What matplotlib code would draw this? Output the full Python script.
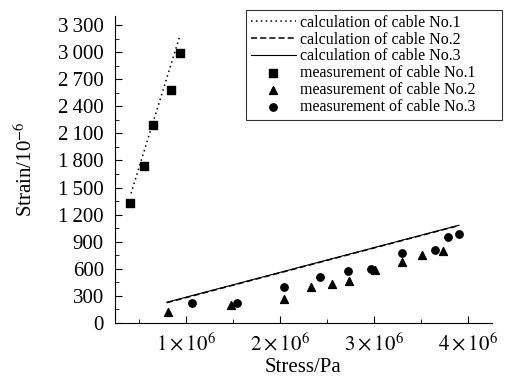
import numpy as np
import matplotlib
matplotlib.use('Agg')
from matplotlib import pyplot as plt
from matplotlib.ticker import MultipleLocator, FixedLocator

plt.rcParams['font.family'] = ['Liberation Serif', 'DejaVu Serif']
plt.rcParams['mathtext.fontset'] = 'stix'

# calculated lines (stress in Pa, strain in 1e-6)
calc1_x = [0.42e6, 0.94e6]
calc1_y = [1435, 3186]
calc2_x = [0.80e6, 3.886e6]
calc2_y = [225, 1076]
calc3_x = [0.80e6, 3.90e6]
calc3_y = [230, 1083]

# measurements
meas1_x = [0.41e6, 0.554e6, 0.65e6, 0.84e6, 0.94e6]
meas1_y = [1331, 1740, 2198, 2577, 2994]
meas2_x = [0.808e6, 1.479e6, 2.04e6, 2.33e6, 2.55e6, 2.73e6, 3.01e6, 3.29e6, 3.51e6, 3.73e6]
meas2_y = [125, 199, 262, 402, 431, 465, 586, 678, 752, 796]
meas3_x = [1.07e6, 1.545e6, 2.04e6, 2.42e6, 2.72e6, 2.97e6, 3.29e6, 3.64e6, 3.78e6, 3.90e6]
meas3_y = [218, 218, 402, 512, 579, 597, 771, 808, 955, 985]

yticks = [0, 300, 600, 900, 1200, 1500, 1800, 2100, 2400, 2700, 3000, 3300]
ytick_labels = ['0', '300', '600', '900', '1\u2009200', '1\u2009500', '1\u2009800', '2\u2009100',
                '2\u2009400', '2\u2009700', '3\u2009000', '3\u2009300']
xticks = [1e6, 2e6, 3e6, 4e6]
xtick_labels = [r'$1\times10^{6}$', r'$2\times10^{6}$', r'$3\times10^{6}$', r'$4\times10^{6}$']

fig = plt.figure(figsize=(5.08, 3.81), dpi=100)
ax = fig.add_axes([115/508, 1-323/381, (492-115)/508, (323-16)/381])

l1, = ax.plot(calc1_x, calc1_y, color='black', linestyle=(0, (1, 2.2)), lw=1.1)
l2, = ax.plot(calc2_x, calc2_y, color='black', linestyle=(0, (4, 2)), lw=1.1)
l3, = ax.plot(calc3_x, calc3_y, color='black', linestyle='-', lw=0.8)
m1 = ax.scatter(meas1_x, meas1_y, marker='s', s=28, color='black')
m2 = ax.scatter(meas2_x, meas2_y, marker='^', s=32, color='black')
m3 = ax.scatter(meas3_x, meas3_y, marker='o', s=28, color='black')

ax.set_xlim(0.25e6, 4.25e6)
ax.set_ylim(0, 3400)
ax.yaxis.set_major_locator(FixedLocator(yticks))
ax.set_yticklabels(ytick_labels)
ax.yaxis.set_minor_locator(MultipleLocator(150))
ax.xaxis.set_major_locator(FixedLocator(xticks))
ax.set_xticklabels(xtick_labels)
ax.xaxis.set_minor_locator(MultipleLocator(0.5e6))

ax.spines['top'].set_visible(False)
ax.spines['right'].set_visible(False)
ax.tick_params(which='both', direction='in')
ax.tick_params(axis='y', labelsize=15, pad=8)
ax.tick_params(axis='x', labelsize=15, pad=7)
ax.tick_params(which='major', length=5)
ax.tick_params(which='minor', length=3)

ax.set_xlabel('Stress/Pa', fontsize=15, labelpad=2)
ax.set_ylabel('Strain/10$^{-6}$', fontsize=15, labelpad=15)

leg = fig.legend([l1, l2, l3, m1, m2, m3],
                 ['calculation of cable No.1', 'calculation of cable No.2', 'calculation of cable No.3',
                  'measurement of cable No.1', 'measurement of cable No.2', 'measurement of cable No.3'],
                 loc='upper left', bbox_to_anchor=(246/508, 1-115/381, 256/508, 105/381),
                 mode='expand', borderaxespad=0,
                 fontsize=11.5, frameon=True, fancybox=False, edgecolor='black', handlelength=2.8,
                 handletextpad=0.3, labelspacing=0.05, borderpad=0.3, scatterpoints=1)
leg.get_frame().set_linewidth(0.8)

fig.savefig('out.png', dpi=100)
